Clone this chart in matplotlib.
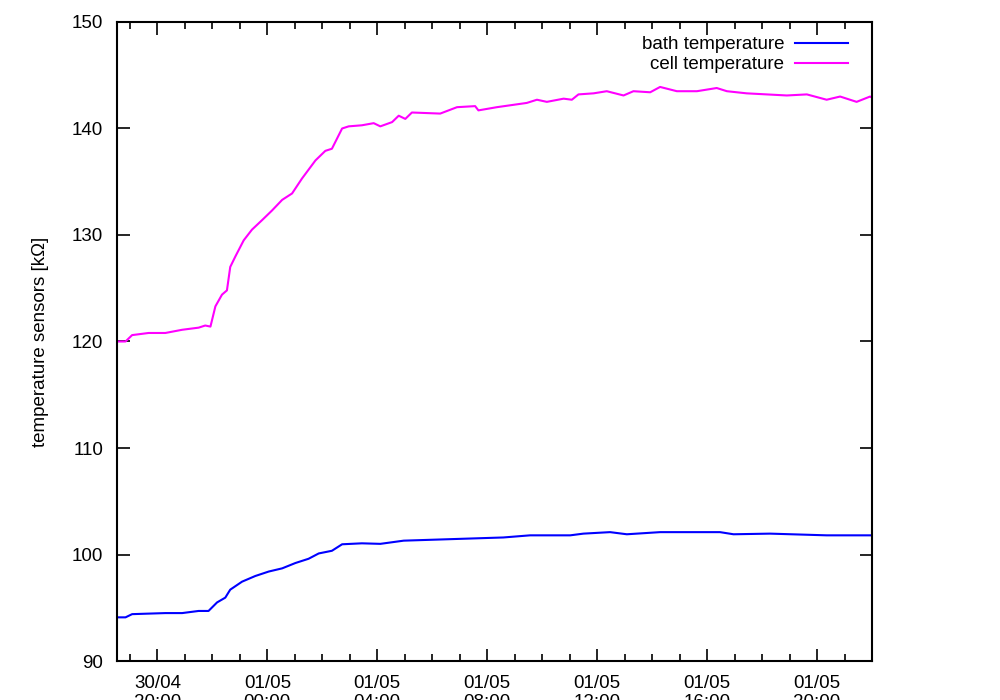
import datetime as dt
import matplotlib
matplotlib.use("Agg")
import matplotlib.pyplot as plt
import matplotlib.dates as mdates

plt.rcParams['font.family'] = ['Liberation Sans', 'DejaVu Sans']

# hours relative to 01/05 00:00
cell_hours = [-5.47, -5.16, -4.92, -4.32, -3.71, -3.10, -2.50, -2.26, -2.07, -1.89,
              -1.65, -1.47, -1.35, -1.16, -0.86, -0.56, -0.19, 0.17, 0.54, 0.90,
              1.26, 1.75, 2.11, 2.35, 2.72, 2.96, 3.44, 3.87, 4.11, 4.54,
              4.78, 5.02, 5.26, 6.29, 6.90, 7.56, 7.68, 8.35, 9.44, 9.81,
              10.17, 10.78, 11.08, 11.32, 11.87, 12.35, 12.96, 13.32, 13.93, 14.29,
              14.90, 15.63, 16.35, 16.72, 17.44, 18.17, 18.90, 19.63, 20.35, 20.84,
              21.44, 21.93, 22.0]
cell_values = [120.0, 120.0, 120.6, 120.8, 120.8, 121.1, 121.3, 121.5, 121.4, 123.3,
               124.4, 124.8, 127.0, 128.0, 129.5, 130.5, 131.4, 132.3, 133.3, 133.9,
               135.3, 137.0, 137.9, 138.1, 140.0, 140.2, 140.3, 140.5, 140.2, 140.6,
               141.2, 140.9, 141.5, 141.4, 142.0, 142.1, 141.7, 142.0, 142.4, 142.7,
               142.5, 142.8, 142.7, 143.2, 143.3, 143.5, 143.1, 143.5, 143.4, 143.9,
               143.5, 143.5, 143.8, 143.5, 143.3, 143.2, 143.1, 143.2, 142.7, 143.0,
               142.5, 143.0, 142.9]

bath_hours = [-5.47, -5.16, -4.92, -4.32, -3.71, -3.10, -2.50, -2.14, -1.83, -1.53,
              -1.35, -0.92, -0.44, 0.05, 0.54, 1.02, 1.50, 1.87, 2.35, 2.72,
              3.44, 4.11, 4.96, 6.17, 7.38, 8.59, 9.56, 11.02, 11.50, 12.47,
              13.08, 14.29, 16.47, 16.96, 18.29, 20.35, 21.93, 22.0]
bath_values = [94.1, 94.1, 94.4, 94.45, 94.5, 94.5, 94.7, 94.7, 95.5, 95.95,
               96.7, 97.45, 97.98, 98.4, 98.7, 99.2, 99.6, 100.1, 100.35, 100.96,
               101.05, 101.0, 101.3, 101.4, 101.5, 101.6, 101.8, 101.8, 101.96, 102.1,
               101.9, 102.1, 102.1, 101.9, 101.96, 101.8, 101.8, 101.8]

base = dt.datetime(2010, 5, 1, 0, 0)
def to_dt(hours):
    return [base + dt.timedelta(hours=h) for h in hours]

FS = 13.5

fig = plt.figure(figsize=(10, 7), dpi=100)
ax = fig.add_axes([0.117, 0.0557, 0.755, 0.9129])

ax.plot(to_dt(bath_hours), bath_values, color='#0000ff', lw=1.5, label='bath temperature')
ax.plot(to_dt(cell_hours), cell_values, color='#ff00ff', lw=1.5, label='cell temperature')

ax.set_xlim(base + dt.timedelta(hours=-5.47), base + dt.timedelta(hours=22.0))
ax.set_ylim(90, 150)
ax.set_yticks(range(90, 151, 10))

ax.xaxis.set_major_locator(mdates.HourLocator(byhour=range(0, 24, 4)))
ax.xaxis.set_minor_locator(mdates.HourLocator())
ax.xaxis.set_major_formatter(mdates.DateFormatter('%d/%m\n%H:%M'))

ax.tick_params(which='both', direction='in', top=True, right=True, labelsize=FS, width=1.2)
ax.tick_params(which='major', length=9)
ax.tick_params(which='minor', length=5)
ax.tick_params(axis='y', pad=10)
ax.tick_params(axis='x', pad=10)
for lab in ax.get_xticklabels():
    lab.set_linespacing(1.15)
for s in ax.spines.values():
    s.set_linewidth(1.5)

ax.set_ylabel('temperature sensors [kΩ]', fontsize=FS)
ax.yaxis.set_label_coords(-0.090, 0.5)

ax.legend(loc='upper right', bbox_to_anchor=(0.968, 0.978), frameon=False,
          markerfirst=False, fontsize=FS, handlelength=2.8, handletextpad=0.6,
          labelspacing=0.16, borderaxespad=0, borderpad=0)

fig.savefig('out.png', dpi=100)
